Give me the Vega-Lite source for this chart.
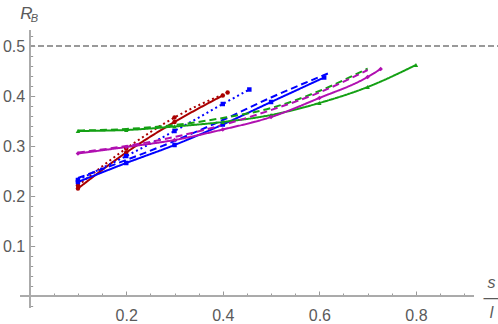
{
  "$schema": "https://vega.github.io/schema/vega-lite/v6.json",
  "width": 478,
  "height": 278,
  "autosize": "none",
  "padding": {"left": 20, "top": 30, "right": 0, "bottom": 16},
  "background": "white",
  "config": {
    "view": {"stroke": null},
    "font": "Liberation Sans",
    "axis": {"grid": false, "domain": false, "tickColor": "#999999", "labelColor": "#5a5a5a", "labelFont": "Liberation Sans", "titleColor": "#5a5a5a", "titleFont": "Liberation Sans", "titleFontWeight": "normal"}
  },
  "datasets": {
    "lines": [
      {"s": "R1", "c": "A", "d": "solid", "x": 0.1, "y": 0.215},
      {"s": "R1", "c": "A", "d": "solid", "x": 0.2, "y": 0.287},
      {"s": "R1", "c": "A", "d": "solid", "x": 0.3, "y": 0.348},
      {"s": "R1", "c": "A", "d": "solid", "x": 0.4, "y": 0.401},
      {"s": "R3", "c": "A", "d": "dotted", "x": 0.1, "y": 0.221},
      {"s": "R3", "c": "A", "d": "dotted", "x": 0.2, "y": 0.295},
      {"s": "R3", "c": "A", "d": "dotted", "x": 0.3, "y": 0.357},
      {"s": "R3", "c": "A", "d": "dotted", "x": 0.41, "y": 0.407},
      {"s": "B1", "c": "B", "d": "solid", "x": 0.1, "y": 0.228},
      {"s": "B1", "c": "B", "d": "solid", "x": 0.2, "y": 0.266},
      {"s": "B1", "c": "B", "d": "solid", "x": 0.3, "y": 0.302},
      {"s": "B1", "c": "B", "d": "solid", "x": 0.4, "y": 0.343},
      {"s": "B1", "c": "B", "d": "solid", "x": 0.5, "y": 0.388},
      {"s": "B1", "c": "B", "d": "solid", "x": 0.61, "y": 0.437},
      {"s": "B2", "c": "B", "d": "dashed", "x": 0.1, "y": 0.236},
      {"s": "B2", "c": "B", "d": "dashed", "x": 0.2, "y": 0.272},
      {"s": "B2", "c": "B", "d": "dashed", "x": 0.3, "y": 0.310},
      {"s": "B2", "c": "B", "d": "dashed", "x": 0.4, "y": 0.352},
      {"s": "B2", "c": "B", "d": "dashed", "x": 0.5, "y": 0.397},
      {"s": "B2", "c": "B", "d": "dashed", "x": 0.62, "y": 0.446},
      {"s": "B3", "c": "B", "d": "dotted", "x": 0.1, "y": 0.232},
      {"s": "B3", "c": "B", "d": "dotted", "x": 0.2, "y": 0.280},
      {"s": "B3", "c": "B", "d": "dotted", "x": 0.3, "y": 0.330},
      {"s": "B3", "c": "B", "d": "dotted", "x": 0.4, "y": 0.384},
      {"s": "B3", "c": "B", "d": "dotted", "x": 0.455, "y": 0.413},
      {"s": "G1", "c": "C", "d": "solid", "x": 0.1, "y": 0.330},
      {"s": "G1", "c": "C", "d": "solid", "x": 0.2, "y": 0.332},
      {"s": "G1", "c": "C", "d": "solid", "x": 0.3, "y": 0.339},
      {"s": "G1", "c": "C", "d": "solid", "x": 0.4, "y": 0.348},
      {"s": "G1", "c": "C", "d": "solid", "x": 0.5, "y": 0.362},
      {"s": "G1", "c": "C", "d": "solid", "x": 0.6, "y": 0.386},
      {"s": "G1", "c": "C", "d": "solid", "x": 0.7, "y": 0.418},
      {"s": "G1", "c": "C", "d": "solid", "x": 0.8, "y": 0.462},
      {"s": "G2", "c": "C", "d": "dashed", "x": 0.1, "y": 0.331},
      {"s": "G2", "c": "C", "d": "dashed", "x": 0.2, "y": 0.334},
      {"s": "G2", "c": "C", "d": "dashed", "x": 0.3, "y": 0.342},
      {"s": "G2", "c": "C", "d": "dashed", "x": 0.4, "y": 0.356},
      {"s": "G2", "c": "C", "d": "dashed", "x": 0.5, "y": 0.376},
      {"s": "G2", "c": "C", "d": "dashed", "x": 0.6, "y": 0.410},
      {"s": "G2", "c": "C", "d": "dashed", "x": 0.7, "y": 0.455},
      {"s": "M1", "c": "D", "d": "solid", "x": 0.1, "y": 0.285},
      {"s": "M1", "c": "D", "d": "solid", "x": 0.2, "y": 0.298},
      {"s": "M1", "c": "D", "d": "solid", "x": 0.3, "y": 0.312},
      {"s": "M1", "c": "D", "d": "solid", "x": 0.4, "y": 0.333},
      {"s": "M1", "c": "D", "d": "solid", "x": 0.5, "y": 0.358},
      {"s": "M1", "c": "D", "d": "solid", "x": 0.6, "y": 0.396},
      {"s": "M1", "c": "D", "d": "solid", "x": 0.7, "y": 0.438},
      {"s": "M1", "c": "D", "d": "solid", "x": 0.727, "y": 0.454},
      {"s": "M2", "c": "D", "d": "dashed", "x": 0.1, "y": 0.287},
      {"s": "M2", "c": "D", "d": "dashed", "x": 0.2, "y": 0.300},
      {"s": "M2", "c": "D", "d": "dashed", "x": 0.3, "y": 0.318},
      {"s": "M2", "c": "D", "d": "dashed", "x": 0.4, "y": 0.342},
      {"s": "M2", "c": "D", "d": "dashed", "x": 0.5, "y": 0.372},
      {"s": "M2", "c": "D", "d": "dashed", "x": 0.6, "y": 0.407},
      {"s": "M2", "c": "D", "d": "dashed", "x": 0.7, "y": 0.452}
    ]
  },
  "resolve": {"scale": {"x": "shared", "y": "shared"}, "axis": {"x": "independent", "y": "independent"}},
  "layer": [
    {
      "data": {"name": "lines"},
      "mark": {"type": "rule", "strokeWidth": 1, "strokeDash": [5, 4], "color": "#999999"},
      "encoding": {
        "y": {"datum": 0.5, "type": "quantitative", "scale": {"domain": [-0.024, 0.532], "nice": false, "zero": false}, "axis": null},
        "x": {"datum": 0, "type": "quantitative", "scale": {"domain": [-0.02, 0.97], "nice": false, "zero": false}, "axis": null},
        "x2": {"datum": 0.97}
      }
    },
    {
      "data": {"name": "lines"},
      "mark": {"type": "rule", "strokeWidth": 1, "color": "#aaaaaa"},
      "encoding": {
        "y": {"datum": 0, "type": "quantitative", "scale": {"domain": [-0.024, 0.532], "nice": false, "zero": false}, "axis": null},
        "x": {"datum": -0.02, "type": "quantitative", "scale": {"domain": [-0.02, 0.97], "nice": false, "zero": false}, "axis": null},
        "x2": {"datum": 0.92}
      }
    },
    {
      "data": {"name": "lines"},
      "mark": {"type": "rule", "strokeWidth": 1, "color": "#aaaaaa"},
      "encoding": {
        "x": {"datum": 0, "type": "quantitative", "scale": {"domain": [-0.02, 0.97], "nice": false, "zero": false}, "axis": null},
        "y": {"datum": -0.024, "type": "quantitative", "scale": {"domain": [-0.024, 0.532], "nice": false, "zero": false}, "axis": null},
        "y2": {"datum": 0.532}
      }
    },
    {
      "data": {"name": "lines"},
      "mark": {"type": "line", "strokeWidth": 2, "interpolate": "monotone", "clip": false},
      "encoding": {
        "x": {
          "field": "x", "type": "quantitative",
          "scale": {"domain": [-0.02, 0.97], "nice": false, "zero": false},
          "axis": {
            "orient": "bottom", "offset": -12, "values": [0.2, 0.4, 0.6, 0.8], "format": ".1f",
            "tickSize": -5, "labelPadding": 16, "labelFontSize": 16,
            "title": ["s", "—", "l"], "titleFontStyle": "italic", "titleFontSize": 16, "titleLineHeight": 15,
            "titleAngle": 0, "titleX": 471, "titleY": -14, "titleAlign": "center", "titleBaseline": "middle"
          }
        },
        "y": {
          "field": "y", "type": "quantitative",
          "scale": {"domain": [-0.024, 0.532], "nice": false, "zero": false},
          "axis": {
            "orient": "left", "offset": -9.66, "values": [0.1, 0.2, 0.3, 0.4, 0.5], "format": ".1f",
            "tickSize": -5, "labelPadding": 10, "labelFontSize": 16,
            "title": "R", "titleFontStyle": "italic", "titleFontSize": 17,
            "titleAngle": 0, "titleX": -10, "titleY": -12, "titleAlign": "left", "titleBaseline": "alphabetic"
          }
        },
        "color": {"field": "c", "type": "nominal", "legend": null, "scale": {"domain": ["A", "B", "C", "D"], "range": ["#aa0000", "#0000ff", "#14a014", "#b010b0"]}},
        "strokeDash": {"field": "d", "type": "nominal", "legend": null, "scale": {"domain": ["solid", "dashed", "dotted"], "range": [[1, 0], [7, 4], [2, 3]]}},
        "detail": {"field": "s"}
      }
    },
    {
      "data": {"name": "lines"},
      "transform": [{"filter": "datum.d == 'solid' || datum.s == 'B3' || datum.s == 'R3'"}],
      "mark": {"type": "point", "filled": true, "size": 20, "opacity": 1, "clip": false},
      "encoding": {
        "x": {
          "field": "x", "type": "quantitative",
          "scale": {"domain": [-0.02, 0.97], "nice": false, "zero": false},
          "axis": {
            "orient": "bottom", "offset": -12,
            "values": [0.05, 0.1, 0.15, 0.25, 0.3, 0.35, 0.45, 0.5, 0.55, 0.65, 0.7, 0.75, 0.85, 0.9],
            "tickSize": -3, "labels": false, "title": null
          }
        },
        "y": {
          "field": "y", "type": "quantitative",
          "scale": {"domain": [-0.024, 0.532], "nice": false, "zero": false},
          "axis": {
            "orient": "left", "offset": -9.66,
            "values": [-0.02, 0.02, 0.04, 0.06, 0.08, 0.12, 0.14, 0.16, 0.18, 0.22, 0.24, 0.26, 0.28, 0.32, 0.34, 0.36, 0.38, 0.42, 0.44, 0.46, 0.48, 0.52],
            "tickSize": -3, "labels": false,
            "title": "B", "titleFontStyle": "italic", "titleFontSize": 11,
            "titleAngle": 0, "titleX": 0.5, "titleY": -9, "titleAlign": "left", "titleBaseline": "alphabetic"
          }
        },
        "color": {"field": "c", "type": "nominal", "legend": null, "scale": {"domain": ["A", "B", "C", "D"], "range": ["#aa0000", "#0000ff", "#14a014", "#b010b0"]}},
        "shape": {"field": "c", "type": "nominal", "legend": null, "scale": {"domain": ["A", "B", "C", "D"], "range": ["circle", "square", "triangle-up", "diamond"]}}
      }
    }
  ]
}
